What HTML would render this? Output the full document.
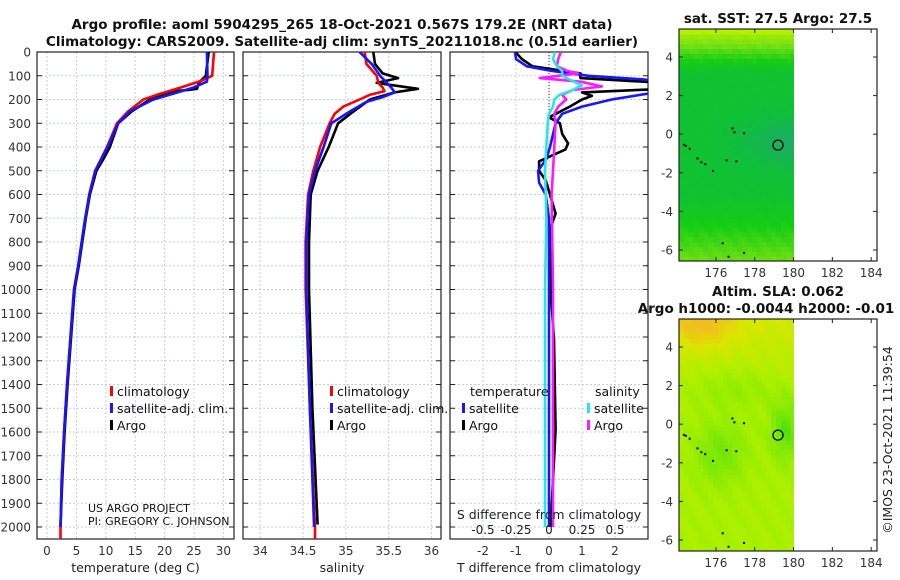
<!DOCTYPE html>
<html><head><meta charset="utf-8"><style>
html,body{margin:0;padding:0;background:#fff;}
svg{display:block;font-family:"DejaVu Sans","Liberation Sans",sans-serif;}
</style></head><body>
<svg id="c" width="900" height="580" xmlns="http://www.w3.org/2000/svg">
<g font-weight="bold" font-size="13.5" text-anchor="middle" fill="#111">
<text x="342" y="29">Argo profile: aoml 5904295_265 18-Oct-2021 0.567S 179.2E (NRT data)</text>
<text x="342" y="46">Climatology: CARS2009. Satellite-adj clim: synTS_20211018.nc (0.51d earlier)</text>
<text x="778" y="23">sat. SST: 27.5 Argo: 27.5</text>
<text x="778" y="296">Altim. SLA: 0.062</text>
<text x="766" y="313">Argo h1000: -0.0044 h2000: -0.01</text>
</g>
<text transform="translate(892,440) rotate(-90)" font-size="12.5" text-anchor="middle" fill="#222">©IMOS 23-Oct-2021 11:39:54</text>
</svg>
<script>
// ---- Panel 1: temperature
const tDepthClim=[0,100,120,150,180,200,250,300,400,500,600,700,800,900,1000,1200,1400,1600,1800,2000,2050];
const tClim=[28.4,28.1,26.4,22.7,18.7,16.4,13.8,11.9,10.2,8.2,7.2,6.5,5.9,5.3,4.6,4.0,3.4,2.9,2.5,2.3,2.3];
const tDepthSat=[0,100,125,150,175,200,250,300,400,500,600,700,800,900,1000,1200,1400,1600,1800,2000];
const tSat=[27.2,27.3,27.2,24.9,21.5,18.1,14.1,12.1,10.3,8.2,7.2,6.5,5.9,5.3,4.6,4.0,3.4,2.9,2.5,2.3];
const tDepthArgo=[0,100,130,155,160,165,200,250,300,400,450,500,600,700,800,900,1000,1200,1400,1600,1800,2000];
const tArgo=[27.5,27.0,25.8,25.5,24.0,21.5,17.5,14.4,12.1,10.7,9.6,8.4,7.3,6.6,6.0,5.4,4.7,4.1,3.5,3.0,2.6,2.3];
// ---- Panel 2: salinity
const sDepthClim=[0,50,100,130,150,165,180,200,230,260,300,400,500,600,800,1000,1500,2000,2050];
const sClim=[35.22,35.24,35.36,35.38,35.43,35.45,35.28,35.16,34.97,34.87,34.81,34.70,34.62,34.56,34.53,34.53,34.58,34.64,34.64];
const sDepthSat=[0,50,100,150,170,190,210,250,300,400,500,600,800,1000,1500,2000];
const sSat=[35.16,35.30,35.40,35.53,35.57,35.43,35.24,35.05,34.83,34.74,34.64,34.57,34.54,34.54,34.58,34.63];
const sDepthArgo=[0,50,90,110,130,155,170,200,250,300,400,500,600,800,1000,1500,1990];
const sArgo=[35.32,35.34,35.43,35.61,35.36,35.84,35.57,35.28,35.09,34.91,34.80,34.67,34.59,34.57,34.57,34.61,34.67];
// ---- Panel 3: differences
const dDepthT=[0,30,60,80,100,115,125,150,175,200,230,260,300,400,450,500,550,600,700,1000,1500,2000];
const dTSat=[-1.03,-1.0,-0.67,0.1,1.2,2.8,3.5,3.5,3.0,1.9,1.0,0.4,0.2,0.03,-0.08,-0.33,-0.3,-0.1,0.0,0.0,0.0,0.0];
const dDepthTA=[0,10,30,60,90,110,130,155,170,185,200,230,275,300,345,385,410,460,500,540,680,740,1000,1210,1590,2000];
const dTArgo=[-1.0,-0.95,-0.82,-0.5,0.95,0.95,3.5,3.5,1.0,1.3,1.0,0.63,0.0,0.33,0.4,0.58,0.5,-0.3,-0.3,-0.1,0.2,0.05,0.05,0.15,0.2,0.05];
const dDepthS=[0,30,60,80,100,120,140,160,180,200,230,260,300,500,700,1000,2000];
const dSSat=[0.045,0.03,0.06,0.1,0.1,0.17,0.25,0.18,0.08,0.04,0.03,0.0,-0.01,-0.03,-0.02,-0.03,-0.03];
const dDepthSA=[0,30,60,80,90,110,125,145,160,180,200,230,260,300,400,500,600,1000,2000];
const dSArgo=[0.09,0.07,0.06,0.14,0.22,-0.07,0.24,0.4,0.18,0.1,0.13,0.07,0.04,0.05,0.04,0.03,0.02,0.03,0.03];
const tTicks=[0,5,10,15,20,25,30];
const sTicks=[34,34.5,35,35.5,36];
const dTTicks=[-2,-1,0,1,2];
const dSTicks=[-0.5,-0.25,0,0.25,0.5];
const sTickLabels=["34","34.5","35","35.5","36"];
const dSTickLabels=["-0.5","-0.25","0","0.25","0.5"];
const depthTicks=[0,100,200,300,400,500,600,700,800,900,1000,1100,1200,1300,1400,1500,1600,1700,1800,1900,2000];
const lonTicks=[176,178,180,182,184];
const latTicks=[4,2,0,-2,-4,-6];
const islandLon=[174.4,174.6,175.0,175.2,175.4,175.8,176.5,177.0,176.3,176.6,177.4,176.9,176.8,177.4,174.3];
const islandLat=[-0.55,-0.7,-1.2,-1.4,-1.5,-1.85,-1.3,-1.35,-5.6,-6.3,-6.1,0.15,0.35,0.1,-0.5];
const argoLon=[179.2], argoLat=[-0.567];

const NS="http://www.w3.org/2000/svg";
const svg=document.getElementById('c');
function mk(tag,attrs,parent){const e=document.createElementNS(NS,tag);for(const k in attrs)e.setAttribute(k,attrs[k]);(parent||svg).appendChild(e);return e;}
const Y0=52, YB=539;
function yD(d){return Y0+(d-0)*(527-52)/2000;}
function panel(x0,x1,xmin,xmax,name){
  return {x0,x1,sx:v=>x0+(v-xmin)/(xmax-xmin)*(x1-x0),name};
}
const P1=panel(37,234,-1.7,31.8,'temperature');
const P2=panel(243,441,33.8,36.11,'salinity');
const P3=panel(450,648,-3,3,'difference');
const P3S=v=>P3.sx(v*4);

function frame(P,ticks,labels,title){
  const g=mk('g',{});
  
  
  depthTicks.forEach(d=>{const l=mk('line',{x1:P.x0,x2:P.x1,y1:yD(d),y2:yD(d),stroke:'#c9cbe6','stroke-width':1,'stroke-dasharray':'2,2'},g);
    });
  ticks.forEach((t,i)=>{const x=P.sx(t);
    const l=mk('line',{x1:x,x2:x,y1:Y0,y2:YB,stroke:'#c9cbe6','stroke-width':1,'stroke-dasharray':'2,2'},g);
    
    const tx=mk('text',{x:x,y:555,'font-size':12,'text-anchor':'middle',fill:'#333'},g);tx.textContent=labels[i];
    });
  depthTicks.forEach(d=>{mk('line',{x1:P.x0,x2:P.x0+5,y1:yD(d),y2:yD(d),stroke:'#222'},g);mk('line',{x1:P.x1-5,x2:P.x1,y1:yD(d),y2:yD(d),stroke:'#222'},g);});
  const r=mk('rect',{x:P.x0,y:Y0,width:P.x1-P.x0,height:YB-Y0,fill:'none',stroke:'#222','stroke-width':1.2},g);
  
  const tt=mk('text',{x:(P.x0+P.x1)/2,y:572,'font-size':12.5,'text-anchor':'middle',fill:'#222'},g);tt.textContent=title;
  
  return g;
}
frame(P1,tTicks,tTicks.map(String),'temperature (deg C)');
frame(P2,sTicks,sTickLabels,'salinity');
frame(P3,dTTicks,dTTicks.map(String),'T difference from climatology');
depthTicks.forEach(d=>{const t=mk('text',{x:31,y:yD(d)+4.5,'font-size':12,'text-anchor':'end',fill:'#333'});t.textContent=d;
  });

function clipRect(P,id){const cp=mk('clipPath',{id:id});mk('rect',{x:P.x0,y:Y0,width:P.x1-P.x0,height:YB-Y0},cp);}
clipRect(P1,'c1');clipRect(P2,'c2');clipRect(P3,'c3');
function line(depths,vals,sx,color,clip,name){
  const pts=depths.map((d,i)=>sx(vals[i]).toFixed(1)+','+yD(d).toFixed(1)).join(' ');
  const p=mk('polyline',{points:pts,fill:'none',stroke:color,'stroke-width':2.6,'stroke-linejoin':'round','clip-path':'url(#'+clip+')'});
  
  
}
const zl=mk('line',{x1:P3.sx(0),x2:P3.sx(0),y1:Y0,y2:yD(260),stroke:'#333','stroke-dasharray':'1,2'});


line(tDepthArgo,tArgo,P1.sx,'#000','c1','temperature-argo-line');
line(tDepthClim,tClim,P1.sx,'#f00','c1','temperature-climatology-line');
line(tDepthSat,tSat,P1.sx,'#1515ff','c1','temperature-satellite-line');
line(sDepthArgo,sArgo,P2.sx,'#000','c2','salinity-argo-line');
line(sDepthClim,sClim,P2.sx,'#f00','c2','salinity-climatology-line');
line(sDepthSat,sSat,P2.sx,'#1515ff','c2','salinity-satellite-line');
line(dDepthTA,dTArgo,P3.sx,'#000','c3','tdiff-argo-line');
line(dDepthT,dTSat,P3.sx,'#1515ff','c3','tdiff-satellite-line');
line(dDepthSA,dSArgo,P3S,'#ff19ff','c3','sdiff-argo-line');
line(dDepthS,dSSat,P3S,'#22e8e8','c3','sdiff-satellite-line');

const st=mk('text',{x:549,y:519,'font-size':12.5,'text-anchor':'middle',fill:'#222'});st.textContent='S difference from climatology';

dSTicks.forEach((v,i)=>{const t=mk('text',{x:P3S(v),y:534,'font-size':12,'text-anchor':'middle',fill:'#222'});t.textContent=dSTickLabels[i];
  });

function leg(x,y,color,label,name){
  const g=mk('g',{});
  mk('rect',{x:x,y:y-10,width:3,height:10,fill:color},g);
  const t=mk('text',{x:x+7,y:y,'font-size':12.5,fill:'#111'},g);t.textContent=label;
}
leg(110,396,'#f00','climatology','legend-climatology');
leg(110,413,'#1515ff','satellite-adj. clim.','legend-satellite');
leg(110,430,'#000','Argo','legend-argo');
leg(330,396,'#f00','climatology','legend-climatology-2');
leg(330,413,'#1515ff','satellite-adj. clim.','legend-satellite-2');
leg(330,430,'#000','Argo','legend-argo-2');
(function(){const t=mk('text',{x:470,y:396,'font-size':12.5,fill:'#111'});t.textContent='temperature';
const s=mk('text',{x:595,y:396,'font-size':12.5,fill:'#111'});s.textContent='salinity';})();
leg(462,413,'#1515ff','satellite','legend-t-satellite');
leg(462,430,'#000','Argo','legend-t-argo');
leg(587,413,'#22e8e8','satellite','legend-s-satellite');
leg(587,430,'#ff19ff','Argo','legend-s-argo');
(function(){const t=mk('text',{x:88,y:512,'font-size':11,fill:'#111'});t.textContent='US ARGO PROJECT';
const u=mk('text',{x:88,y:525,'font-size':11,fill:'#111'});u.textContent='PI: GREGORY C. JOHNSON';})();

// ---- maps
function lerp(a,b,t){return a.map((v,i)=>Math.round(v+(b[i]-v)*t));}
function cmap(stops,v){v=Math.max(0,Math.min(1,v));const n=stops.length-1;const i=Math.min(n-1,Math.floor(v*n));const t=v*n-i;const c=lerp(stops[i],stops[i+1],t);return 'rgb('+c.join(',')+')';}
const sstStops=[[40,160,130],[15,190,60],[20,205,20],[120,225,20],[180,240,0]];
const slaStops=[[20,205,20],[110,230,10],[170,240,0],[220,230,0],[240,190,30]];
function g2(x,y,cx,cy,sx,sy){const a=(x-cx)/sx,b=(y-cy)/sy;return Math.exp(-(a*a)-(b*b));}
function sstV(lon,lat){
  let v=0.32+Math.max(0,lat-3.2)*0.3+Math.max(0,-3.2-lat)*0.12;
  const q=(lat+0.4)/1.4;
  v-=0.2*Math.exp(-(q*q))*Math.min(1,Math.max(0,(lon-175.5)/4));
  return v+Math.sin(lon*7+lat*5)*0.02;}
function slaV(lon,lat){
  let v=0.5+Math.max(0,lat-1.5)*0.05;
  v+=0.35*g2(lon,lat,175.3,5.3,1.6,1.3);
  v-=0.22*g2(lon,lat,176.2,-1.5,1.3,1.6);
  v-=0.3*g2(lon,lat,179.6,-0.3,0.8,1.5);
  v-=0.1*g2(lon,lat,177,2,2,1);
  return v+Math.sin(lon*5+lat*3)*0.03;}
function map(top,bot,stops,vf,name){
  const L0=174.1,L1=184.3,x0=679,x1=877;const B0=-6.57,B1=5.45;
  const sx=l=>x0+(l-L0)/(L1-L0)*(x1-x0), sy=a=>top+(B1-a)/(B1-B0)*(bot-top);
  const g=mk('g',{});
  const step=0.25;
  for(let lon=L0;lon<180;lon+=step)for(let lat=B0;lat<B1;lat+=step){
    const w=Math.min(step,180-lon);
    mk('rect',{x:sx(lon).toFixed(1),y:sy(Math.min(lat+step,B1)).toFixed(1),width:(w/(L1-L0)*(x1-x0)+0.5).toFixed(1),height:(step/(B1-B0)*(bot-top)+0.5).toFixed(1),fill:cmap(stops,vf(lon+step/2,lat+step/2))},g);}
  islandLon.forEach((lo,i)=>{const d=mk('rect',{x:sx(lo),y:sy(islandLat[i]),width:2,height:2,fill:'#000'},g);});
  const c=mk('circle',{cx:sx(argoLon[0]),cy:sy(argoLat[0]),r:5,fill:'none',stroke:'#000','stroke-width':1.3},g);
  
  mk('rect',{x:x0,y:top,width:x1-x0,height:bot-top,fill:'none',stroke:'#222','stroke-width':1.2},g);
  lonTicks.forEach(l=>{const x=sx(l);mk('line',{x1:x,x2:x,y1:bot,y2:bot-4,stroke:'#222'},g);mk('line',{x1:x,x2:x,y1:top,y2:top+4,stroke:'#222'},g);
    const t=mk('text',{x:x,y:bot+16,'font-size':12,'text-anchor':'middle',fill:'#333'},g);t.textContent=l;});
  latTicks.forEach(a=>{const y=sy(a);mk('line',{x1:x0,x2:x0+4,y1:y,y2:y,stroke:'#222'},g);mk('line',{x1:x1,x2:x1-4,y1:y,y2:y,stroke:'#222'},g);
    const t=mk('text',{x:673,y:y+4.5,'font-size':12,'text-anchor':'end',fill:'#333'},g);t.textContent=a;});
}
map(29,261,sstStops,sstV,'sst-map');
map(319,551,slaStops,slaV,'sla-map');
</script>
</body></html>
